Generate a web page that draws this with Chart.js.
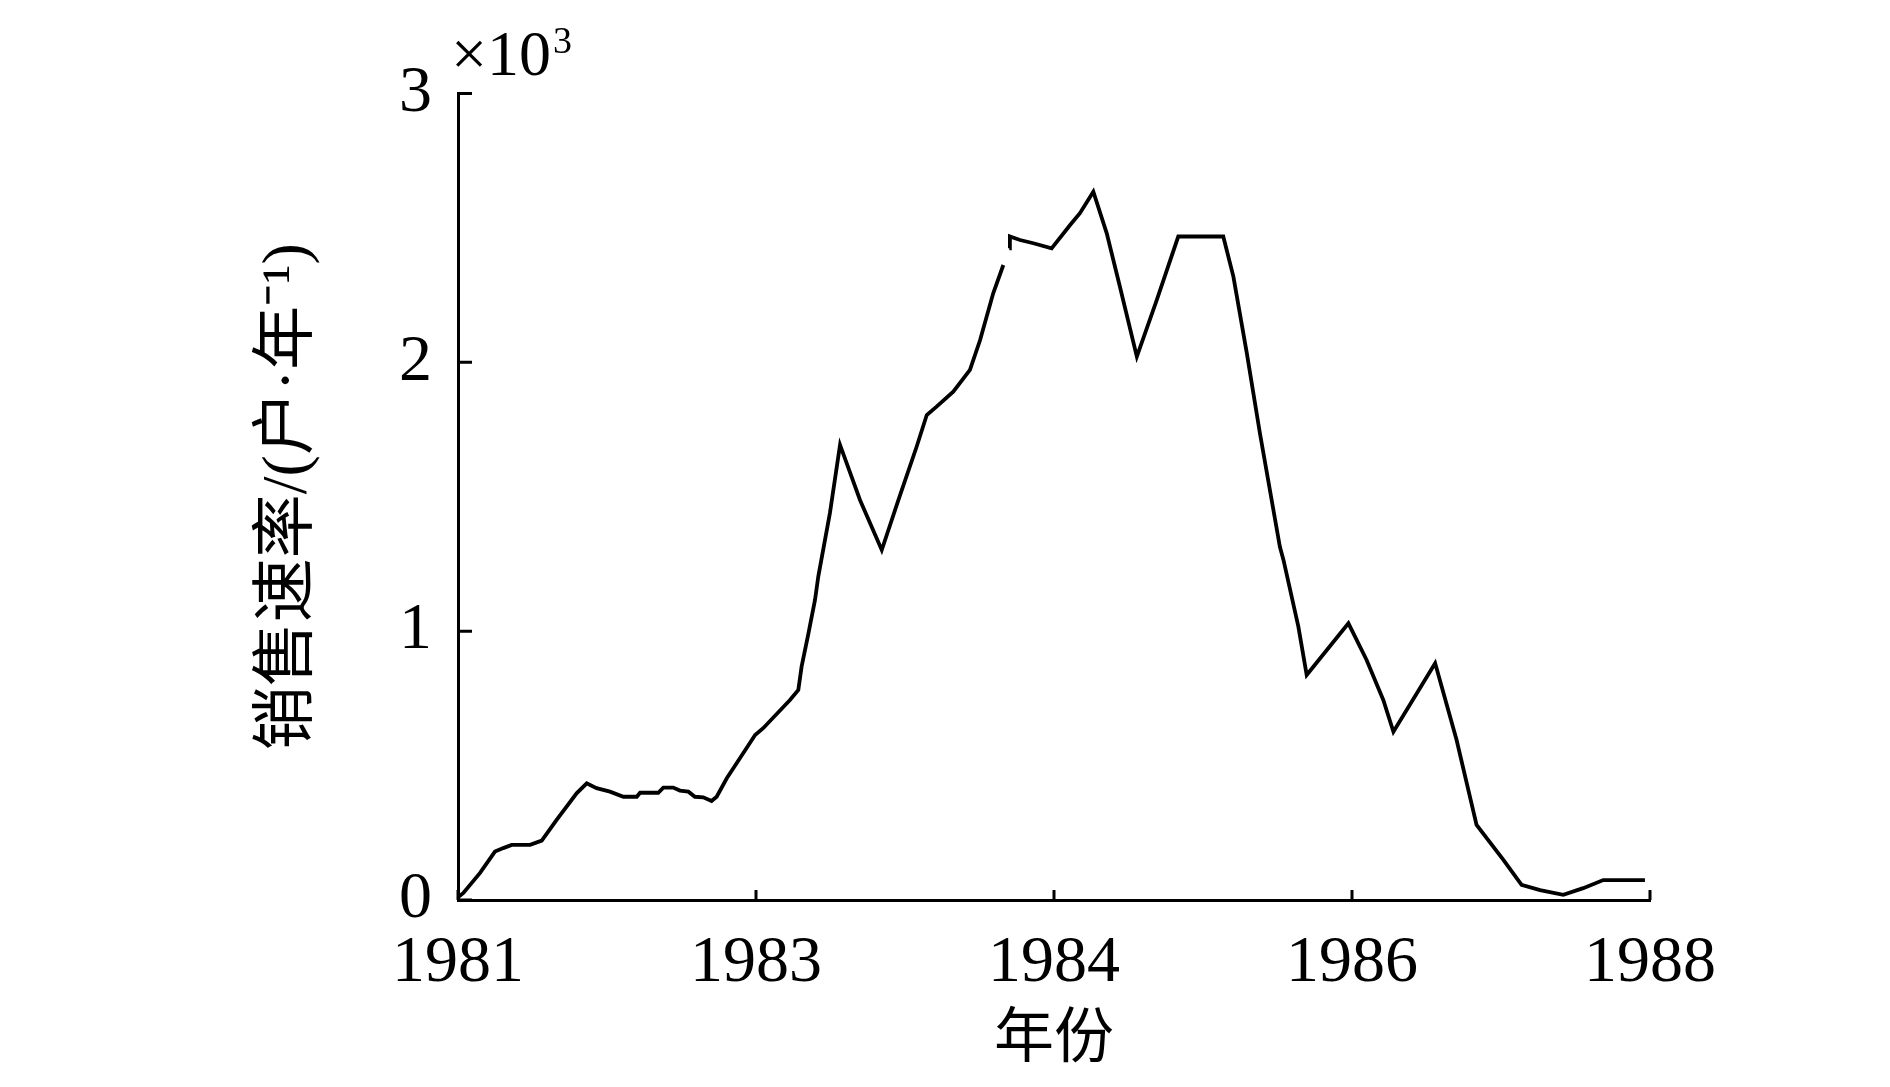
<!DOCTYPE html>
<html><head><meta charset="utf-8">
<script src="https://cdn.jsdelivr.net/npm/chart.js@4/dist/chart.umd.min.js"></script>
<style>html,body{margin:0;padding:0;background:#fff;overflow:hidden}#wrap{width:1890px;height:1087px;position:relative}</style>
</head><body><div id="wrap"><canvas id="c" width="1890" height="1087"></canvas></div>
<script>
const xTickLabels = ['1981','1983','1984','1986','1988'];
const yTickLabels = ['0','1','2','3'];
const xTitle = '年份';
const yTitle = '销售速率/(户·年⁻¹)';
const yUnitBase = '×10';
const yUnitExp = '3';
// x positions in tick-index units (0 = 1981 tick ... 4 = 1988 tick)
const xPos = [0.000,0.018,0.074,0.124,0.152,0.180,0.242,0.281,0.331,0.398,0.432,0.465,0.510,0.555,0.600,0.611,0.672,0.689,0.722,0.745,0.773,0.795,0.823,0.851,0.868,0.902,0.946,0.997,1.024,1.114,1.142,1.153,1.176,1.198,1.209,1.248,1.282,1.349,1.422,1.478,1.539,1.573,1.606,1.662,1.718,1.752,1.796,1.830,1.840,1.850,1.852,1.886,1.931,1.992,2.054,2.087,2.132,2.177,2.221,2.278,2.345,2.417,2.568,2.602,2.647,2.691,2.758,2.770,2.820,2.848,2.988,3.049,3.105,3.139,3.279,3.351,3.418,3.508,3.569,3.631,3.709,3.776,3.843,3.983];
// sales rate in thousands of households per year (null = gap in the line)
const salesRate = [0.01,0.026,0.101,0.180,0.193,0.205,0.205,0.221,0.298,0.397,0.434,0.416,0.403,0.384,0.384,0.399,0.399,0.418,0.418,0.407,0.403,0.384,0.382,0.368,0.384,0.453,0.527,0.614,0.639,0.744,0.781,0.868,0.992,1.116,1.203,1.439,1.693,1.488,1.302,1.488,1.686,1.804,1.835,1.891,1.972,2.083,2.257,2.362,null,2.424,2.468,2.455,2.443,2.424,2.511,2.555,2.635,2.480,2.282,2.021,2.232,2.468,2.468,2.319,2.034,1.736,1.314,1.265,1.017,0.837,1.029,0.893,0.744,0.626,0.881,0.595,0.279,0.149,0.056,0.037,0.019,0.044,0.074,0.074];

const points = xPos.map((x, i) => ({x: x, y: salesRate[i]}));
const SERIF = '"Liberation Serif", "Times New Roman", "Noto Sans CJK SC", serif';

const innerTicks = {
  id: 'innerTicks',
  afterDraw(chart) {
    const ctx = chart.ctx;
    const xs = chart.scales.x, ys = chart.scales.y;
    const a = chart.chartArea;
    ctx.save();
    ctx.strokeStyle = '#000';
    ctx.lineWidth = 3;
    ctx.beginPath();
    xs.ticks.forEach(t => {
      const px = xs.getPixelForValue(t.value);
      ctx.moveTo(px, a.bottom);
      ctx.lineTo(px, a.bottom - 10);
    });
    ys.ticks.forEach(t => {
      const py = ys.getPixelForValue(t.value);
      ctx.moveTo(a.left, py);
      ctx.lineTo(a.left + 14, py);
    });
    ctx.stroke();
    ctx.fillStyle = '#000';
    ctx.textBaseline = 'alphabetic';
    ctx.textAlign = 'left';
    ctx.font = '64px ' + SERIF;
    const bx = a.left - 7, by = a.top - 19;
    ctx.fillText(yUnitBase, bx, by);
    const w = ctx.measureText(yUnitBase).width;
    ctx.font = '38px ' + SERIF;
    ctx.fillText(yUnitExp, bx + w + 2, by - 22);
    ctx.restore();
  }
};

new Chart(document.getElementById('c'), {
  type: 'line',
  data: {
    datasets: [{
      data: points,
      borderColor: '#000',
      borderWidth: 3.8,
      pointRadius: 0,
      tension: 0,
      fill: false,
      spanGaps: false
    }]
  },
  options: {
    responsive: false,
    animation: false,
    devicePixelRatio: 1,
    layout: {padding: {left: 0, right: 240, top: 93.5, bottom: 0}},
    plugins: {legend: {display: false}, tooltip: {enabled: false}},
    scales: {
      x: {
        type: 'linear', min: 0, max: 4,
        afterFit(s) { s.height = 187; },
        grid: {display: false, drawTicks: false},
        border: {display: true, color: '#000', width: 3},
        ticks: {
          stepSize: 1, color: '#000', padding: 24, maxRotation: 0,
          font: {family: SERIF, size: 66},
          callback: (v) => xTickLabels[v]
        },
        title: {display: true, text: xTitle, color: '#000', font: {family: SERIF, size: 60}, padding: {top: 0, bottom: 10}}
      },
      y: {
        type: 'linear', min: 0, max: 3,
        afterFit(s) { s.width = 458; },
        grid: {display: false, drawTicks: false},
        border: {display: true, color: '#000', width: 3},
        ticks: {
          stepSize: 1, color: '#000', padding: 26,
          font: {family: SERIF, size: 66},
          callback: (v) => yTickLabels[v]
        },
        title: {display: true, text: yTitle, color: '#000', font: {family: SERIF, size: 64}, padding: {top: 251, bottom: 0}}
      }
    }
  },
  plugins: [innerTicks]
});
</script></body></html>
